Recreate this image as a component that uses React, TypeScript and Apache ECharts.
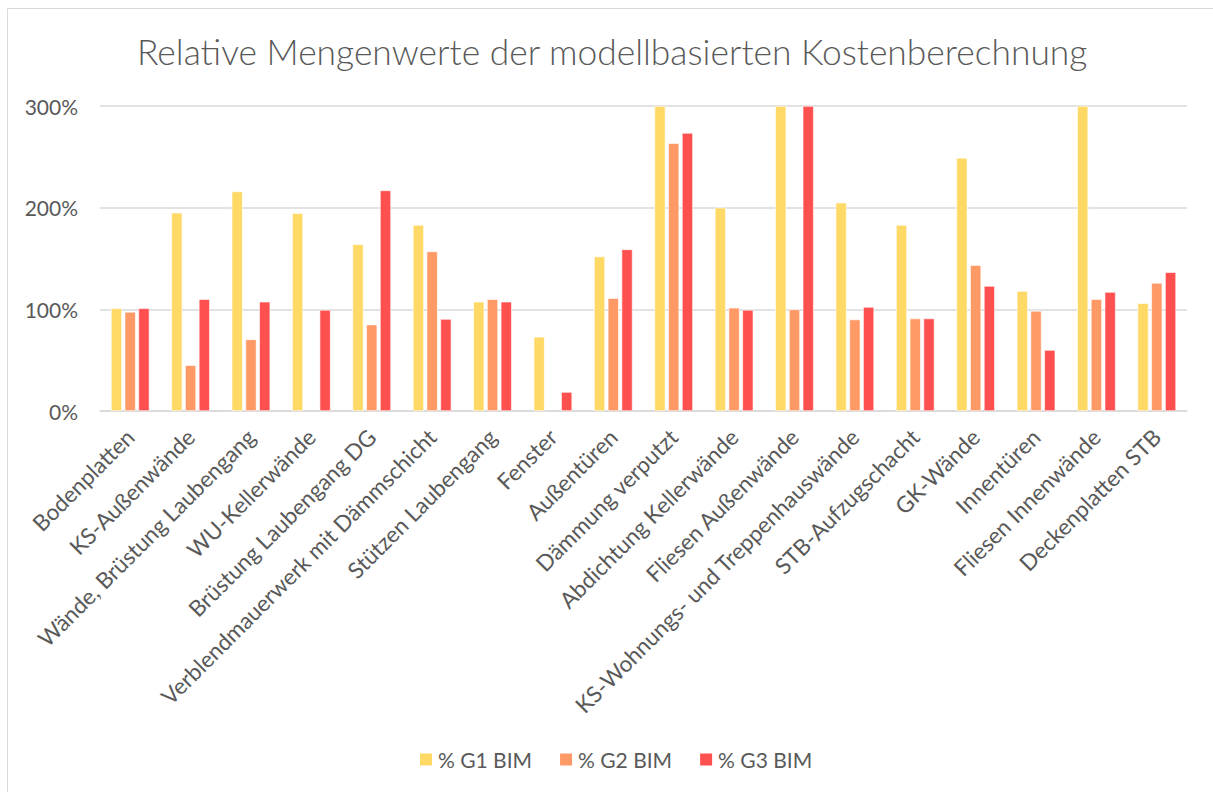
import React, { useEffect, useRef } from "react";
import * as echarts from "echarts";

const categories = [
  "Bodenplatten",
  "KS-Außenwände",
  "Wände, Brüstung Laubengang",
  "WU-Kellerwände",
  "Brüstung Laubengang DG",
  "Verblendmauerwerk mit Dämmschicht",
  "Stützen Laubengang",
  "Fenster",
  "Außentüren",
  "Dämmung verputzt",
  "Abdichtung Kellerwände",
  "Fliesen Außenwände",
  "KS-Wohnungs- und Treppenhauswände",
  "STB-Aufzugschacht",
  "GK-Wände",
  "Innentüren",
  "Fliesen Innenwände",
  "Deckenplatten STB",
];

const g1 = [101, 195, 216, 194.5, 164, 183, 107.5, 73, 152, 300, 200, 300, 205, 183, 249, 118, 300, 106];
const g2 = [97.5, 45, 70.5, null, 85, 157, 110, null, 111, 263.5, 101.5, 100, 90, 91, 143.5, 98.5, 110, 126];
const g3 = [101, 110, 107.5, 99.5, 217, 90.5, 107.5, 18.7, 159, 273.5, 99.5, 300, 102.3, 91, 123, 60, 117, 136.5];

const seriesNames = ["% G1 BIM", "% G2 BIM", "% G3 BIM"];
const colors = ["#FFD966", "#FF9966", "#FF5050"];
const yTicks = [0, 100, 200, 300];

const FONT = "Lato, 'Open Sans', sans-serif";
const TEXT = "#595959";

export default function App() {
  const ref = useRef<HTMLDivElement>(null);
  useEffect(() => {
    if (!ref.current) return;
    const chart = echarts.init(ref.current, undefined, { renderer: "svg" });
    const data = [g1, g2, g3];
    chart.setOption({
      animation: false,
      backgroundColor: "#ffffff",
      textStyle: { fontFamily: FONT },
      title: {
        text: "Relative Mengenwerte der modellbasierten Kostenberechnung",
        left: 132,
        top: 29,
        textStyle: { fontFamily: FONT, fontSize: 35.4, fontWeight: 300, color: TEXT },
      },
      graphic: [
        {
          type: "rect",
          shape: { x: 7.5, y: 8.5, width: 1400, height: 1000 },
          style: { fill: "none", stroke: "#d9d9d9", lineWidth: 1 },
          silent: true,
        },
      ],
      legend: {
        bottom: 17,
        left: 413,
        itemWidth: 14,
        itemHeight: 14,
        itemGap: 26,
        icon: "rect",
        textStyle: { fontFamily: FONT, fontSize: 21, color: TEXT },
        data: seriesNames,
      },
      grid: { left: 100, right: 26, top: 106, bottom: 381, containLabel: false },
      xAxis: {
        type: "category",
        data: categories,
        axisLine: { lineStyle: { color: "#d9d9d9", width: 1.5 } },
        axisTick: { show: false },
        axisLabel: {
          rotate: 45,
          interval: 0,
          margin: 22,
          fontFamily: FONT,
          fontSize: 22.5,
          color: TEXT,
        },
      },
      yAxis: {
        type: "value",
        min: yTicks[0],
        max: yTicks[yTicks.length - 1],
        interval: 100,
        axisLine: { show: false },
        axisTick: { show: false },
        splitLine: { lineStyle: { color: "#d9d9d9", width: 1.5 } },
        axisLabel: {
          formatter: "{value}%",
          margin: 22,
          fontFamily: FONT,
          fontSize: 21,
          color: TEXT,
        },
      },
      series: seriesNames.map((name, i) => ({
        name,
        type: "bar",
        data: data[i],
        barWidth: 11,
        barGap: "25%",
        clip: true,
        itemStyle: { color: colors[i], borderColor: "#ffffff", borderWidth: 0.6 },
      })),
    });
    return () => chart.dispose();
  }, []);
  return (
    <div
      ref={ref}
      style={{ position: "absolute", left: 0, top: 0, width: 1213, height: 792 }}
    />
  );
}
